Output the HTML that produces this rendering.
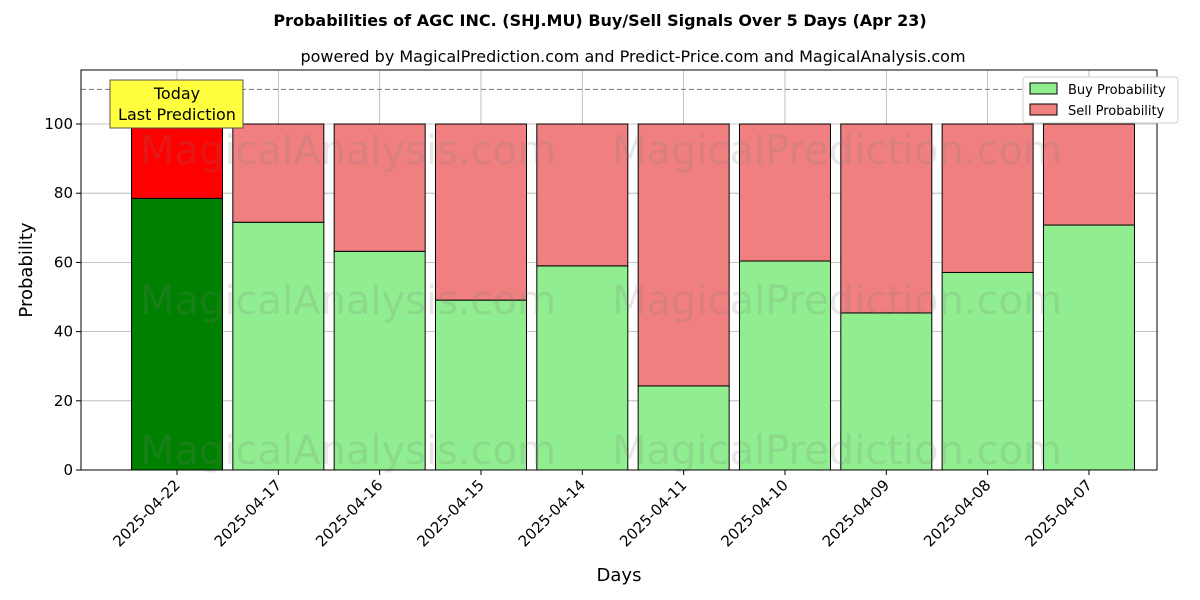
<!DOCTYPE html>
<html><head><meta charset="utf-8"><style>body{margin:0;background:#fff}svg{display:block;font-family:"DejaVu Sans","Liberation Sans",sans-serif}</style></head>
<body>
<svg id="chart" width="1200" height="600"></svg>
<script>
const categories=["2025-04-22","2025-04-17","2025-04-16","2025-04-15","2025-04-14","2025-04-11","2025-04-10","2025-04-09","2025-04-08","2025-04-07"];
const buyValues=[78.5,71.6,63.2,49.1,59.0,24.3,60.4,45.4,57.1,70.8];
const sellValues=buyValues.map(v=>100-v);
const yTicks=[0,20,40,60,80,100];
const L=81,R=1157,T=70,B=470;
const x=i=>177+(i)*101.33;
const y=v=>470-v*3.46;
const svg=document.getElementById('chart');
const NS='http://www.w3.org/2000/svg';
function add(tag,attrs,txt){const e=document.createElementNS(NS,tag);for(const k in attrs)e.setAttribute(k,attrs[k]);if(txt!==undefined)e.textContent=txt;svg.appendChild(e);return e;}
let e;
e=add('text',{x:600,y:26,'text-anchor':'middle','font-size':16,'font-weight':'bold'},'Probabilities of AGC INC. (SHJ.MU) Buy/Sell Signals Over 5 Days (Apr 23)');

e=add('text',{x:633,y:62,'text-anchor':'middle','font-size':16},'powered by MagicalPrediction.com and Predict-Price.com and MagicalAnalysis.com');

// grid
yTicks.forEach(t=>{e=add('line',{x1:L,x2:R,y1:y(t),y2:y(t),stroke:'#b0b0b0','stroke-width':0.8});});
categories.forEach((c,i)=>{e=add('line',{x1:x(i),x2:x(i),y1:T,y2:B,stroke:'#b0b0b0','stroke-width':0.8});});
// bars
const bw=91;
categories.forEach((c,i)=>{
 const today=i===0;
 e=add('rect',{x:x(i)-bw/2,y:y(buyValues[i]),width:bw,height:y(0)-y(buyValues[i]),fill:today?'#008000':'#90ee90',stroke:'#000','stroke-width':1});
 
 e=add('rect',{x:x(i)-bw/2,y:y(100),width:bw,height:y(buyValues[i])-y(100),fill:today?'#ff0000':'#f08080',stroke:'#000','stroke-width':1});
 
});
// watermarks
[[348,150,'MagicalAnalysis.com'],[837,150,'MagicalPrediction.com'],[348,300,'MagicalAnalysis.com'],[837,300,'MagicalPrediction.com'],[348,450,'MagicalAnalysis.com'],[837,450,'MagicalPrediction.com']].forEach(w=>{
 e=add('text',{x:w[0],y:w[1]+14,'text-anchor':'middle','font-size':40,fill:'rgba(120,120,120,0.18)'},w[2]);});
e=add('line',{x1:L,x2:R,y1:y(110),y2:y(110),stroke:'#777','stroke-width':1,'stroke-dasharray':'5,3'});

e=add('rect',{x:L,y:T,width:R-L,height:B-T,fill:'none',stroke:'#000','stroke-width':1});

// y ticks
yTicks.forEach(t=>{
 e=add('line',{x1:L-5,x2:L,y1:y(t),y2:y(t),stroke:'#000'});
 e=add('text',{x:L-8,y:y(t)+5,'text-anchor':'end','font-size':15},t);
});
categories.forEach((c,i)=>{
 e=add('line',{x1:x(i),x2:x(i),y1:B,y2:B+5,stroke:'#000'});
 e=add('text',{x:x(i)+4,y:B+16,'text-anchor':'end','font-size':15,transform:`rotate(-45 ${x(i)+4} ${B+16})`},c);
});
e=add('text',{x:619,y:581,'text-anchor':'middle','font-size':18},'Days');
e=add('text',{x:32,y:270,'text-anchor':'middle','font-size':18,transform:'rotate(-90 32 270)'},'Probability');
// today box
e=add('rect',{x:110,y:80,width:133,height:48,fill:'#ffff40',stroke:'#555','stroke-width':1});
e=add('text',{x:177,y:99,'text-anchor':'middle','font-size':16},'Today');
e=add('text',{x:177,y:120,'text-anchor':'middle','font-size':16},'Last Prediction');
// legend
e=add('rect',{x:1023,y:77,width:155,height:46,fill:'#fff',stroke:'#ccc',rx:3});
e=add('rect',{x:1030,y:83,width:27,height:11,fill:'#90ee90',stroke:'#000'});
e=add('text',{x:1068,y:94,'font-size':13},'Buy Probability');
e=add('rect',{x:1030,y:104,width:27,height:11,fill:'#f08080',stroke:'#000'});
e=add('text',{x:1068,y:115,'font-size':13},'Sell Probability');
</script>
</body></html>
